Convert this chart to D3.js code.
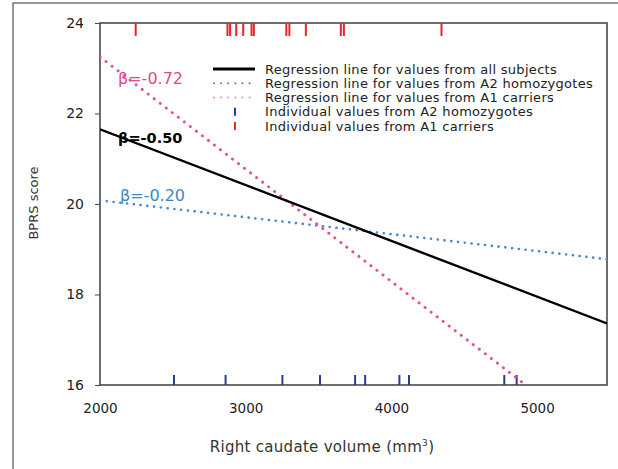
<!DOCTYPE html>
<html>
<head>
  <meta charset="utf-8">
  <script src="https://d3js.org/d3.v7.min.js"></script>
  <style>
    body { margin: 0; background: #fff; }
    text { font-family: "DejaVu Sans", sans-serif; }
  </style>
</head>
<body>
<script type="text/javascript">
  /*
    Values
  */
  var xTicks = [2000, 3000, 4000, 5000];
  var yTicks = [16, 18, 20, 22, 24];

  // regression line end points (volume, BPRS)
  var lineAll = [[2000, 21.65], [5480, 17.36]];
  var lineA2 = [[2000, 20.08], [5480, 18.78]];
  var lineA1 = [[2000, 23.25], [4922, 16]];

  // individual volumes (rug marks)
  var a2Volumes = [2508, 2862, 3252, 3510, 3751, 3820, 4055, 4121, 4775, 4860];
  var a1Volumes = [2245, 2875, 2893, 2935, 2983, 3040, 3056, 3279, 3300, 3413, 3653, 3674, 4344];

  var betaLabels = ["β=-0.72", "β=-0.50", "β=-0.20"];
  var legendLabels = [
    "Regression line for values from all subjects",
    "Regression line for values from A2 homozygotes",
    "Regression line for values from A1 carriers",
    "Individual values from A2 homozygotes",
    "Individual values from A1 carriers"
  ];

  var pink = "#e0559a", blue = "#4b86cf", navy = "#2b3a9e", red = "#e8232f";

  function draw() {
    "use strict";
    var width = 618, height = 469;
    var pLeft = 100, pRight = 607, pTop = 23, pBottom = 385;

    var svg = d3.select("body")
      .append("svg")
        .attr("width", width)
        .attr("height", height);

    // outer frame
    svg.append("rect")
      .attr("x", 13).attr("y", 3)
      .attr("width", 700).attr("height", 600)
      .attr("fill", "none")
      .attr("stroke", "#333")
      .attr("stroke-width", 1);

    var x = d3.scaleLinear().domain([2000, 5480]).range([pLeft, pRight]);
    var y = d3.scaleLinear().domain([16, 24]).range([pBottom, pTop]);

    svg.append("clipPath").attr("id", "plot")
      .append("rect")
        .attr("x", pLeft).attr("y", pTop)
        .attr("width", pRight - pLeft).attr("height", pBottom - pTop);

    /*
      axes
    */
    var yAxis = svg.append("g")
      .attr("transform", "translate(" + pLeft + ",0)")
      .call(d3.axisLeft(y).tickValues(yTicks).tickSize(5).tickPadding(11));
    yAxis.select(".domain").remove();
    yAxis.selectAll("line").attr("stroke", "#444");
    yAxis.selectAll("text").attr("font-size", 14).attr("fill", "#222")
      .attr("font-family", "DejaVu Sans");

    var xAxis = svg.append("g")
      .attr("transform", "translate(0," + pBottom + ")")
      .call(d3.axisBottom(x).tickValues(xTicks).tickSize(0).tickPadding(18)
        .tickFormat(d3.format("d")));
    xAxis.select(".domain").remove();
    xAxis.selectAll("text").attr("font-size", 13.5).attr("fill", "#222")
      .attr("font-family", "DejaVu Sans");

    // plot box
    svg.append("rect")
      .attr("x", pLeft).attr("y", pTop)
      .attr("width", pRight - pLeft).attr("height", pBottom - pTop)
      .attr("fill", "none")
      .attr("stroke", "#4a4a4a")
      .attr("stroke-width", 1.6);

    svg.append("text")
      .attr("transform", "translate(38," + 203 + ") rotate(-90)")
      .attr("text-anchor", "middle")
      .attr("font-size", 13)
      .attr("fill", "#333")
      .text("BPRS score");

    var xt = svg.append("text")
      .attr("x", 322).attr("y", 452)
      .attr("text-anchor", "middle")
      .attr("font-size", 15)
      .attr("letter-spacing", 0.3)
      .attr("fill", "#333");
    xt.append("tspan").text("Right caudate volume (mm");
    xt.append("tspan").attr("font-size", 9).attr("dy", -6).text("3");
    xt.append("tspan").attr("dy", 6).text(")");

    /*
      rug marks
    */
    svg.selectAll(".rugA2").data(a2Volumes).enter().append("line")
      .attr("x1", function(d) { return x(d); })
      .attr("x2", function(d) { return x(d); })
      .attr("y1", pBottom).attr("y2", pBottom - 10)
      .attr("stroke", navy).attr("stroke-width", 2);

    svg.selectAll(".rugA1").data(a1Volumes).enter().append("line")
      .attr("x1", function(d) { return x(d); })
      .attr("x2", function(d) { return x(d); })
      .attr("y1", pTop).attr("y2", pTop + 13)
      .attr("stroke", red).attr("stroke-width", 2);

    /*
      regression lines
    */
    var line = d3.line()
      .x(function(d) { return x(d[0]); })
      .y(function(d) { return y(d[1]); });

    var g = svg.append("g").attr("clip-path", "url(#plot)");

    g.append("path").datum(lineA2)
      .attr("d", line).attr("fill", "none")
      .attr("stroke", blue).attr("stroke-width", 2.6)
      .attr("stroke-linecap", "round")
      .attr("stroke-dasharray", "0.1,6.7");

    g.append("path").datum(lineA1)
      .attr("d", line).attr("fill", "none")
      .attr("stroke", pink).attr("stroke-width", 3)
      .attr("stroke-linecap", "round")
      .attr("stroke-dasharray", "0.1,7.5");

    g.append("path").datum(lineAll)
      .attr("d", line).attr("fill", "none")
      .attr("stroke", "#000").attr("stroke-width", 2.4);

    // beta labels
    var betaColors = ["#e4468c", "#000", "#3d86c6"];
    var betaY = [78, 138, 195];
    var betaSize = [16, 14.5, 16];
    svg.selectAll(".beta").data(betaLabels).enter().append("text")
      .attr("x", function(d, i) { return i == 2 ? 120 : 118; })
      .attr("y", function(d, i) { return betaY[i]; })
      .attr("dy", "0.36em")
      .attr("font-size", function(d, i) { return betaSize[i]; })
      .attr("font-weight", function(d, i) { return i == 1 ? "bold" : "normal"; })
      .attr("fill", function(d, i) { return betaColors[i]; })
      .text(function(d) { return d; });

    /*
      legend
    */
    var legend = svg.append("g")
      .selectAll("g")
      .data(legendLabels)
      .enter().append("g")
        .attr("transform", function(d, i) {
          return "translate(0," + (69 + i * 14.25) + ")";
        });

    legend.each(function(d, i) {
      var item = d3.select(this);
      if (i == 0) {
        item.append("line").attr("x1", 213).attr("x2", 255)
          .attr("stroke", "#000").attr("stroke-width", 3);
      } else if (i < 3) {
        item.append("line").attr("x1", 214).attr("x2", 256)
          .attr("stroke", i == 1 ? blue : "#e08fc0").attr("stroke-width", 2)
          .attr("stroke-linecap", "round")
          .attr("stroke-dasharray", "0.1,7");
      } else {
        item.append("line").attr("x1", 235).attr("x2", 235)
          .attr("y1", -4).attr("y2", 4)
          .attr("stroke", i == 3 ? navy : red).attr("stroke-width", 2);
      }
    });

    legend.append("text")
      .attr("x", 265)
      .attr("dy", "0.36em")
      .attr("font-size", 13)
      .attr("letter-spacing", 0.3)
      .attr("fill", "#222")
      .text(function(d) { return d; });
  }

  draw();
</script>
</body>
</html>
